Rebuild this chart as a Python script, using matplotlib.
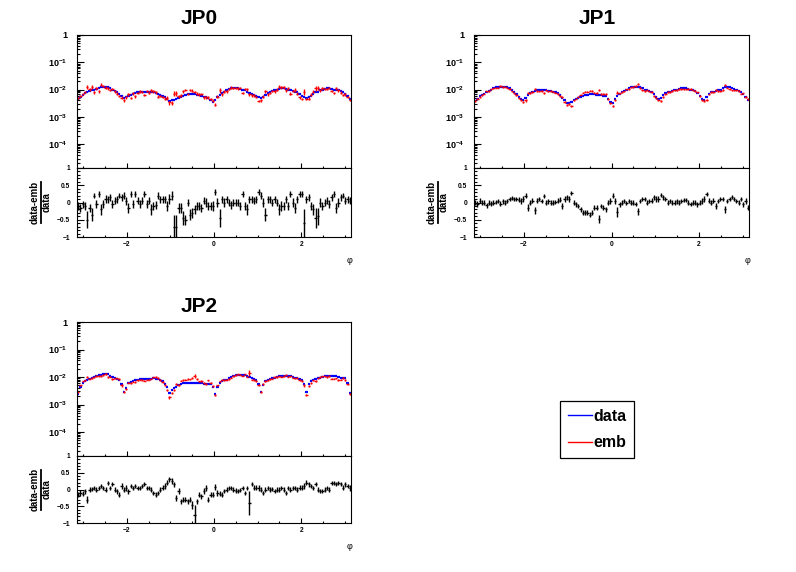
import numpy as np
import matplotlib
matplotlib.use("Agg")
import matplotlib.pyplot as plt
from matplotlib.lines import Line2D
from matplotlib.ticker import LogLocator, MultipleLocator, NullFormatter

plt.rcParams['font.family'] = ['Liberation Sans', 'DejaVu Sans']
plt.rcParams['font.weight'] = 'bold'
plt.rcParams['mathtext.fontset'] = 'custom'
plt.rcParams['mathtext.rm'] = 'Liberation Sans:bold'
plt.rcParams['mathtext.it'] = 'Liberation Sans:bold'
plt.rcParams['mathtext.bf'] = 'Liberation Sans:bold'

nbins = 120
phi_lo, phi_hi = -np.pi, np.pi

titles = ["JP0", "JP1", "JP2"]

# data (blue), in units of 1e-3, per phi bin
data_jp0 = [4.5, 5.2, 6.5, 7.5, 8.2, 9.0, 9.5, 10.0, 10.5, 11.5,
            12.5, 13.0, 13.0, 12.5, 11.5, 10.0, 9.0, 8.0, 7.2, 6.0,
            5.0, 5.5, 6.0, 6.5, 7.0, 7.5, 8.0, 8.2, 8.5, 8.5,
            8.5, 8.2, 8.0, 8.0, 7.5, 7.0, 6.5, 6.0, 5.2, 4.5,
            3.8, 4.0, 4.2, 4.5, 5.0, 5.5, 6.0, 6.5, 7.0, 7.2,
            7.0, 6.8, 6.5, 6.2, 6.0, 5.5, 5.2, 4.8, 4.2, 3.6,
            4.0, 5.5, 6.5, 7.5, 8.5, 9.5, 10.5, 11.0, 11.5, 11.5,
            11.0, 10.5, 10.0, 9.5, 8.5, 7.5, 7.0, 6.5, 6.0, 5.5,
            5.0, 5.5, 6.5, 7.5, 8.5, 9.0, 9.5, 10.0, 10.5, 11.0,
            11.0, 10.5, 10.0, 9.5, 9.0, 8.5, 8.0, 7.0, 6.0, 5.2,
            5.0, 5.5, 6.0, 7.0, 8.0, 8.5, 9.5, 10.0, 10.5, 11.0,
            11.0, 10.5, 10.0, 10.0, 9.5, 9.0, 8.0, 7.0, 6.0, 4.5]
data_jp1 = [3.8, 4.5, 5.8, 6.5, 7.2, 8.0, 9.0, 10.0, 11.0, 12.0,
            12.5, 13.0, 13.0, 13.0, 12.5, 11.5, 10.0, 8.5, 7.0, 5.5,
            4.5, 4.0, 5.0, 6.5, 7.5, 8.5, 9.0, 9.5, 9.5, 9.5,
            9.5, 9.5, 9.0, 9.0, 8.5, 8.0, 7.5, 6.5, 5.0, 4.0,
            3.2, 3.2, 3.6, 4.0, 4.5, 5.0, 5.5, 6.0, 6.5, 6.5,
            6.8, 6.8, 6.8, 6.5, 6.5, 6.2, 6.0, 5.8, 4.5, 3.5,
            3.2, 4.5, 6.0, 7.0, 8.0, 9.0, 10.0, 11.0, 12.0, 12.5,
            13.0, 12.5, 12.0, 11.0, 10.0, 9.5, 9.0, 8.5, 7.0, 5.5,
            4.5, 5.0, 6.5, 7.5, 8.0, 8.5, 9.0, 9.5, 10.0, 10.5,
            11.0, 11.0, 11.0, 10.5, 10.0, 9.5, 9.0, 7.5, 5.8, 4.5,
            4.2, 5.5, 7.0, 8.0, 8.5, 9.0, 9.5, 10.0, 11.0, 12.0,
            12.5, 12.0, 11.0, 10.5, 10.0, 9.0, 8.0, 7.0, 5.5, 4.0]
data_jp2 = [2.4, 4.5, 6.2, 7.2, 8.0, 8.8, 9.5, 10.2, 11.0, 11.5,
            12.0, 12.5, 13.0, 12.5, 11.0, 9.8, 9.0, 8.5, 7.5, 5.5,
            2.8, 4.0, 6.0, 6.8, 7.2, 7.5, 8.0, 8.5, 8.8, 8.8,
            8.5, 8.5, 8.8, 9.0, 8.8, 8.5, 8.0, 7.0, 5.8, 4.2,
            2.6, 3.5, 4.0, 4.5, 5.0, 5.5, 6.0, 6.2, 6.3, 6.3,
            6.3, 6.2, 6.2, 6.0, 6.0, 5.8, 5.8, 5.8, 5.5, 4.2,
            2.4, 4.5, 6.2, 7.0, 7.5, 8.0, 9.0, 10.0, 11.0, 11.5,
            12.0, 12.0, 11.8, 11.5, 11.0, 10.0, 9.5, 8.5, 7.5, 5.5,
            2.8, 5.0, 7.0, 8.0, 8.5, 9.0, 9.5, 10.0, 10.5, 11.0,
            11.0, 11.0, 11.0, 10.5, 10.0, 9.5, 9.0, 8.5, 7.5, 5.5,
            2.8, 5.5, 7.0, 8.0, 8.5, 9.0, 9.5, 10.0, 10.5, 10.8,
            11.0, 11.0, 11.0, 10.5, 10.0, 9.5, 9.5, 9.0, 6.0, 2.6]

# (data-emb)/data per bin
ratio_jp0 = [-0.1, -0.15, -0.05, -0.1, -0.5, -0.15, -0.35, 0.2, -0.05, 0.25,
             -0.2, -0.05, 0.1, 0.1, 0.15, -0.05, 0.05, 0.1, 0.2, 0.15,
             0.2, 0.05, -0.15, 0.25, -0.05, 0.25, 0.05, -0.05, 0.05, 0.25,
             -0.05, 0.05, -0.2, -0.1, -0.08, 0.2, 0.1, 0.1, 0.1, -0.1,
             0.1, 0.2, -0.7, -0.7, -0.15, -0.15, -0.45, -0.5, 0.0, -0.35,
             -0.3, -0.2, -0.1, -0.1, -0.15, 0.05, 0.0, -0.1, -0.1, -0.1,
             0.3, 0.0, -0.45, 0.1, 0.0, 0.1, 0.0, -0.08, 0.0, 0.0,
             0.0, -0.1, 0.25, -0.1, -0.2, 0.1, 0.1, 0.05, 0.1, 0.3,
             0.2, 0.0, -0.35, 0.1, 0.1, 0.0, 0.1, 0.0, -0.2, -0.1,
             -0.1, 0.1, -0.1, 0.25, 0.0, -0.15, 0.1, 0.25, 0.25, -0.6,
             0.1, 0.15, -0.1, -0.2, -0.45, -0.4, 0.0, -0.1, 0.0, 0.05,
             -0.05, 0.15, 0.25, -0.15, 0.0, 0.15, 0.2, 0.05, 0.1, 0.05]
ratio_jp1 = [0.0, -0.05, 0.05, 0.0, 0.0, -0.08, 0.0, -0.03, 0.0, 0.02,
             0.05, -0.03, 0.03, 0.0, 0.05, 0.1, 0.14, 0.1, 0.1, 0.08,
             0.05, 0.1, 0.2, -0.15, 0.0, 0.05, -0.22, 0.05, 0.1, 0.05,
             0.2, 0.0, 0.03, 0.0, 0.0, 0.02, 0.05, 0.08, -0.1, 0.1,
             0.15, 0.1, 0.28, 0.0, -0.05, -0.1, -0.2, -0.3, -0.28, -0.3,
             -0.35, -0.3, -0.15, -0.15, -0.48, -0.1, -0.15, -0.2, 0.0, 0.05,
             0.2, 0.05, -0.28, -0.05, 0.0, 0.05, -0.02, 0.05, 0.0, 0.0,
             -0.05, -0.25, 0.05, 0.1, 0.1, 0.0, 0.05, 0.05, 0.15, 0.1,
             0.1, 0.22, 0.15, 0.1, 0.0, 0.05, 0.0, 0.0, 0.03, 0.0,
             0.05, 0.08, 0.08, 0.0, -0.05, 0.0, 0.0, -0.05, 0.0, 0.05,
             0.1, 0.25, 0.05, 0.0, 0.05, -0.1, 0.05, 0.1, 0.1, -0.2,
             0.05, 0.1, 0.15, 0.1, 0.05, 0.0, 0.1, -0.05, 0.05, -0.15]
ratio_jp2 = [-0.15, -0.1, -0.12, -0.05, -0.3, 0.0, 0.02, 0.05, 0.0, 0.05,
             0.1, 0.05, 0.0, 0.2, 0.05, 0.15, 0.0, -0.05, -0.15, 0.1,
             0.0, 0.05, -0.05, 0.1, 0.05, 0.1, 0.05, 0.05, 0.1, 0.15,
             0.05, 0.05, 0.0, -0.1, -0.15, -0.1, 0.0, 0.05, 0.1, 0.2,
             0.3, 0.25, 0.15, -0.25, -0.05, -0.35, -0.3, -0.3, -0.35, -0.3,
             -0.45, -0.75, -0.35, -0.15, -0.2, -0.05, 0.05, -0.3, -0.15, -0.15,
             0.08, -0.1, -0.12, -0.15, -0.05, 0.0, 0.05, 0.05, 0.0, -0.03,
             -0.05, -0.02, 0.05, -0.1, 0.05, -0.4, 0.15, 0.05, 0.05, 0.05,
             0.0, -0.1, 0.0, 0.05, 0.0, 0.02, -0.05, 0.0, 0.0, 0.05,
             0.0, -0.1, 0.05, 0.0, 0.05, 0.05, 0.0, 0.05, 0.05, 0.1,
             0.2, 0.15, 0.1, 0.05, 0.15, 0.0, -0.05, -0.05, 0.0, 0.05,
             0.0, 0.2, 0.2, 0.15, 0.2, 0.15, 0.05, 0.15, 0.1, 0.05]

# ratio uncertainties per bin
rerr_jp0 = [0.12, 0.12, 0.1, 0.12, 0.25, 0.12, 0.2, 0.08, 0.12, 0.08,
            0.15, 0.12, 0.12, 0.1, 0.1, 0.12, 0.1, 0.1, 0.08, 0.1,
            0.1, 0.12, 0.15, 0.08, 0.12, 0.08, 0.1, 0.12, 0.1, 0.08,
            0.12, 0.1, 0.15, 0.12, 0.12, 0.1, 0.1, 0.1, 0.1, 0.15,
            0.15, 0.12, 0.35, 0.35, 0.15, 0.15, 0.2, 0.15, 0.1, 0.15,
            0.15, 0.12, 0.12, 0.12, 0.12, 0.1, 0.12, 0.12, 0.12, 0.15,
            0.08, 0.12, 0.25, 0.1, 0.12, 0.1, 0.1, 0.12, 0.1, 0.1,
            0.1, 0.12, 0.08, 0.12, 0.15, 0.1, 0.1, 0.1, 0.1, 0.08,
            0.1, 0.12, 0.2, 0.1, 0.1, 0.1, 0.1, 0.1, 0.15, 0.15,
            0.12, 0.1, 0.12, 0.08, 0.12, 0.15, 0.1, 0.08, 0.08, 0.4,
            0.1, 0.1, 0.12, 0.15, 0.3, 0.25, 0.12, 0.12, 0.1, 0.1,
            0.12, 0.1, 0.08, 0.15, 0.12, 0.1, 0.08, 0.1, 0.1, 0.1]
rerr_jp1 = [0.08, 0.08, 0.07, 0.07, 0.07, 0.07, 0.06, 0.06, 0.06, 0.06,
            0.06, 0.06, 0.06, 0.06, 0.06, 0.06, 0.06, 0.06, 0.07, 0.07,
            0.08, 0.08, 0.08, 0.1, 0.07, 0.07, 0.1, 0.07, 0.07, 0.06,
            0.06, 0.06, 0.06, 0.06, 0.06, 0.06, 0.07, 0.07, 0.08, 0.08,
            0.08, 0.08, 0.06, 0.07, 0.07, 0.07, 0.07, 0.07, 0.07, 0.07,
            0.07, 0.07, 0.07, 0.07, 0.12, 0.07, 0.07, 0.07, 0.08, 0.08,
            0.07, 0.08, 0.15, 0.07, 0.07, 0.06, 0.06, 0.06, 0.06, 0.06,
            0.06, 0.1, 0.06, 0.06, 0.06, 0.06, 0.06, 0.07, 0.07, 0.08,
            0.08, 0.06, 0.07, 0.07, 0.07, 0.06, 0.06, 0.06, 0.06, 0.06,
            0.06, 0.06, 0.06, 0.06, 0.06, 0.06, 0.07, 0.07, 0.08, 0.08,
            0.08, 0.06, 0.07, 0.07, 0.07, 0.08, 0.06, 0.06, 0.06, 0.1,
            0.06, 0.06, 0.06, 0.06, 0.06, 0.07, 0.07, 0.07, 0.08, 0.08]
rerr_jp2 = [0.08, 0.08, 0.07, 0.07, 0.1, 0.07, 0.06, 0.06, 0.06, 0.06,
            0.06, 0.06, 0.06, 0.06, 0.06, 0.06, 0.06, 0.07, 0.07, 0.08,
            0.08, 0.08, 0.07, 0.07, 0.06, 0.06, 0.06, 0.06, 0.06, 0.06,
            0.06, 0.06, 0.06, 0.06, 0.07, 0.07, 0.07, 0.07, 0.08, 0.08,
            0.08, 0.08, 0.08, 0.1, 0.08, 0.08, 0.08, 0.08, 0.08, 0.08,
            0.12, 0.3, 0.08, 0.08, 0.08, 0.08, 0.08, 0.08, 0.08, 0.08,
            0.08, 0.08, 0.07, 0.07, 0.06, 0.06, 0.06, 0.06, 0.06, 0.06,
            0.06, 0.06, 0.06, 0.06, 0.06, 0.35, 0.06, 0.07, 0.07, 0.08,
            0.08, 0.07, 0.07, 0.06, 0.06, 0.06, 0.06, 0.06, 0.06, 0.06,
            0.06, 0.06, 0.06, 0.06, 0.06, 0.06, 0.07, 0.07, 0.07, 0.08,
            0.08, 0.07, 0.07, 0.06, 0.06, 0.06, 0.06, 0.06, 0.06, 0.06,
            0.06, 0.06, 0.06, 0.06, 0.06, 0.06, 0.07, 0.07, 0.07, 0.08]

data_rel_err = [0.05, 0.03, 0.03]

panels = [(data_jp0, ratio_jp0, rerr_jp0),
          (data_jp1, ratio_jp1, rerr_jp1),
          (data_jp2, ratio_jp2, rerr_jp2)]
for p in panels:
    assert all(len(a) == nbins for a in p)

edges = np.linspace(phi_lo, phi_hi, nbins + 1)
centers = 0.5 * (edges[1:] + edges[:-1])
hw = 0.5 * (edges[1] - edges[0])

W, H = 796, 572
fig = plt.figure(figsize=(W / 100, H / 100), dpi=100)


def px_axes(x0, x1, y0, y1):
    return fig.add_axes([x0 / W, 1 - y1 / H, (x1 - x0) / W, (y1 - y0) / H])


# frame boxes in pixels: (left, right, top, split, bottom), title centre
frames = [(77, 351, 35, 168, 237, 199, 18),
          (474, 749, 35, 168, 237, 597, 18),
          (77, 351, 322, 456, 523, 199, 306)]

for k, (fr, (dat, rat, rer)) in enumerate(zip(frames, panels)):
    x0, x1, yt, ys, yb, tx, ty = fr
    top = px_axes(x0, x1, yt, ys)
    bot = px_axes(x0, x1, ys, yb)

    d = np.array(dat) * 1e-3
    r = np.array(rat)
    re = np.array(rer)
    emb = d * (1 - r)

    top.errorbar(centers, d, xerr=hw, yerr=d * data_rel_err[k], fmt='none',
                 ecolor='blue', elinewidth=1.6, capsize=0)
    top.errorbar(centers, emb, xerr=hw, yerr=d * re, fmt='none',
                 ecolor='red', elinewidth=1.0, capsize=0)
    bot.errorbar(centers, r, xerr=hw, yerr=re, fmt='none',
                 ecolor='black', elinewidth=1.0, capsize=0)

    top.set_yscale('log')
    top.set_ylim(1.35e-5, 1)
    top.set_xlim(phi_lo, phi_hi)
    top.set_yticks([1e-4, 1e-3, 1e-2, 1e-1, 1],
                   [r'$10^{-4}$', r'$10^{-3}$', r'$10^{-2}$', r'$10^{-1}$', '1'])
    top.yaxis.set_minor_locator(LogLocator(base=10, subs=np.arange(2, 10)))
    top.yaxis.set_minor_formatter(NullFormatter())
    top.set_xticks([-2, 0, 2])
    top.xaxis.set_minor_locator(MultipleLocator(0.5))
    top.tick_params(axis='y', which='major', direction='in', length=5, width=0.8,
                    labelsize=6.5, pad=7)
    top.tick_params(axis='y', which='minor', direction='in', length=2.5, width=0.8)
    top.tick_params(axis='x', which='major', direction='in', length=3.5, width=0.8,
                    labelbottom=False)
    top.tick_params(axis='x', which='minor', direction='in', length=1.8, width=0.8)

    bot.set_xlim(phi_lo, phi_hi)
    bot.set_ylim(-1, 1)
    bot.set_yticks([-1, -0.5, 0, 0.5, 1], ['\u22121', '\u22120.5', '0', '0.5', '1'])
    bot.yaxis.set_minor_locator(MultipleLocator(0.1))
    bot.set_xticks([-2, 0, 2], ['\u22122', '0', '2'])
    bot.xaxis.set_minor_locator(MultipleLocator(0.5))
    bot.tick_params(axis='y', which='major', direction='in', length=5, width=0.8,
                    labelsize=4.8, pad=5)
    bot.tick_params(axis='y', which='minor', direction='in', length=2.5, width=0.8)
    bot.tick_params(axis='x', which='major', direction='in', length=3.5, width=0.8,
                    labelsize=4.8, pad=3)
    bot.tick_params(axis='x', which='minor', direction='in', length=1.8, width=0.8)
    bot.set_xlabel('\u03c6', fontsize=6.5)
    bot.xaxis.set_label_coords(0.995, -0.28)

    for ax in (top, bot):
        for s in ax.spines.values():
            s.set_linewidth(0.8)

    fig.text(tx / W, 1 - ty / H, titles[k], fontsize=15, fontweight='bold',
             ha='center', va='center')

    # ratio y title as a stacked fraction
    ymid = 1 - (ys + yb) / 2 / H
    fig.text((x0 - 42) / W, ymid, 'data-emb', rotation=90, fontsize=7,
             fontweight='bold', ha='center', va='center')
    fig.text((x0 - 30) / W, ymid, 'data', rotation=90, fontsize=7,
             fontweight='bold', ha='center', va='center')
    fig.add_artist(Line2D([(x0 - 36.5) / W, (x0 - 36.5) / W],
                          [ymid - 20 / H, ymid + 20 / H],
                          color='black', lw=1.3, transform=fig.transFigure))

handles = [Line2D([], [], color='blue', lw=1), Line2D([], [], color='red', lw=1)]
leg = fig.legend(handles, ['data', 'emb'], loc='center',
                 bbox_to_anchor=(597 / W, 1 - 429.5 / H),
                 frameon=True, fancybox=False, edgecolor='black', framealpha=1,
                 handlelength=1.5, handletextpad=0.1, borderpad=0.45,
                 labelspacing=0.75, borderaxespad=0,
                 prop={'weight': 'bold', 'size': 11.5})
leg.get_frame().set_linewidth(0.9)

fig.savefig("out.png", dpi=100)
